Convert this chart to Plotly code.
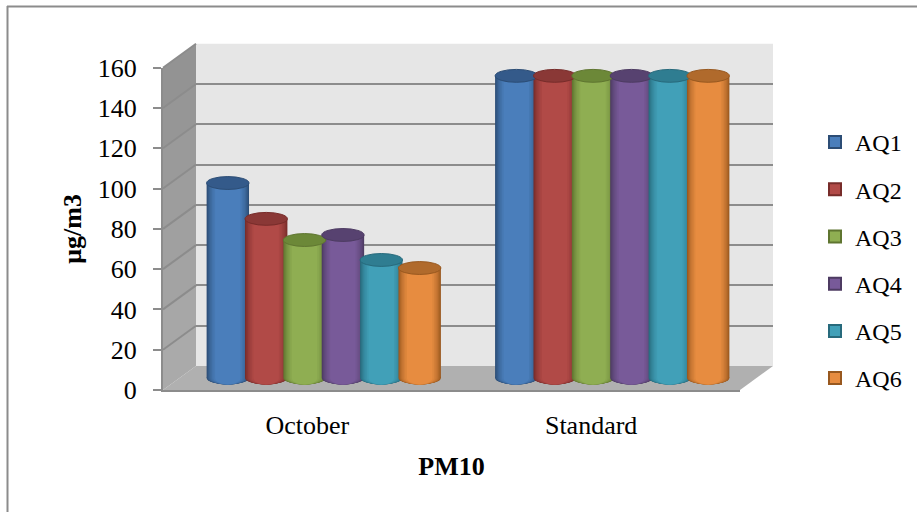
import plotly.graph_objects as go

# PM10 per station, October vs the standard
categories = ["October", "Standard"]
series_names = ["AQ1", "AQ2", "AQ3", "AQ4", "AQ5", "AQ6"]
aq1 = [96.8, 150]
aq2 = [79, 150]
aq3 = [68.5, 150]
aq4 = [71, 150]
aq5 = [58.6, 150]
aq6 = [54.6, 150]
all_values = [aq1, aq2, aq3, aq4, aq5, aq6]
y_ticks = [0, 20, 40, 60, 80, 100, 120, 140, 160]

centre_cols = ["#4a7ebb", "#b14a47", "#8fae52", "#785a99", "#41a0b8", "#e78c40"]
edge_cols = ["#2c4d75", "#772c2a", "#5f7530", "#4d3b62", "#276a7c", "#98581f"]
cap_cols = ["#345a8a", "#8a3836", "#6c8838", "#574270", "#2f7d91", "#b06a2c"]

W, H = 917, 512
FONT = "Liberation Serif"
LINE = "#8c8c8c"

# depth of the fake 3d box, in pixels
DX, DY = 33, 24
LEFT, RIGHT, TOP, BOTTOM = 163, 740, 67.7, 390
PX_PER_UNIT = (BOTTOM - TOP) / 160
BAR_W = 0.147
BAR_STEP = 0.133
CAP_RY = 3.2
LAYERS = [1.0, 0.97, 0.94, 0.9, 0.86, 0.81, 0.75, 0.68, 0.6]


def fx(px):
    return px / W


def fy(py):
    return 1 - py / H


def mix(a, b, t):
    ca = [int(a[i:i + 2], 16) for i in (1, 3, 5)]
    cb = [int(b[i:i + 2], 16) for i in (1, 3, 5)]
    return "#%02x%02x%02x" % tuple(round(p + (q - p) * t) for p, q in zip(ca, cb))


def poly(points, fill):
    path = "M" + " L".join(f"{fx(x):.5f},{fy(y):.5f}" for x, y in points) + " Z"
    return dict(type="path", xref="paper", yref="paper", path=path, fillcolor=fill,
                line=dict(width=0), layer="below")


def seg(x0, y0, x1, y1, width=2):
    return dict(type="line", xref="paper", yref="paper", x0=fx(x0), y0=fy(y0), x1=fx(x1), y1=fy(y1),
                line=dict(color=LINE, width=width), layer="below")


shapes = []
# back wall and floor
shapes.append(poly([(LEFT + DX, TOP - DY), (RIGHT + DX, TOP - DY), (RIGHT + DX, BOTTOM - DY), (LEFT + DX, BOTTOM - DY)], "#e6e6e6"))
shapes.append(poly([(LEFT, BOTTOM), (LEFT + DX, BOTTOM - DY), (RIGHT + DX, BOTTOM - DY), (RIGHT, BOTTOM)], "#b0b0b0"))
# side wall, a little lighter going down
for i in range(len(y_ticks) - 1):
    y_a = BOTTOM - y_ticks[i + 1] * PX_PER_UNIT
    y_b = BOTTOM - y_ticks[i] * PX_PER_UNIT
    shapes.append(poly([(LEFT, y_a), (LEFT + DX, y_a - DY), (LEFT + DX, y_b - DY), (LEFT, y_b)],
                       mix("#aaaaaa", "#939393", i / 7)))
for t in y_ticks[1:]:
    y = BOTTOM - t * PX_PER_UNIT
    shapes.append(seg(LEFT, y, LEFT + DX, y - DY))
# page frame
shapes.append(seg(7, 6.5, W, 6.5))
shapes.append(seg(7.5, 6, 7.5, H))

fig = go.Figure()
# empty traces keep the wall and front axes alive
fig.add_trace(go.Scatter(x=[None], y=[None], xaxis="x", yaxis="y", showlegend=False))
fig.add_trace(go.Scatter(x=[None], y=[None], xaxis="x2", yaxis="y2", showlegend=False))

for i, name in enumerate(series_names):
    xs = [g + 0.5 + (i - 2.5) * BAR_STEP for g in range(len(categories))]
    vals = all_values[i]
    # legend swatch only, the cylinders below have no outline
    fig.add_trace(go.Bar(x=[None], y=[None], name=name, xaxis="x3", yaxis="y3", legendgroup=name,
                         marker=dict(color=centre_cols[i], line=dict(color=edge_cols[i], width=2))))
    for k, frac in enumerate(LAYERS):
        col = mix(edge_cols[i], centre_cols[i], k / (len(LAYERS) - 1))
        fig.add_trace(go.Bar(
            x=xs, y=vals, width=BAR_W * frac, name=name, xaxis="x3", yaxis="y3",
            marker=dict(color=col, line=dict(width=0)), legendgroup=name, showlegend=False,
        ))
        for x in xs:
            # rounded foot of the cylinder
            shapes.append(dict(type="circle", xref="x3", yref="y3", layer="below",
                               x0=x - BAR_W * frac / 2, x1=x + BAR_W * frac / 2, y0=-CAP_RY, y1=CAP_RY,
                               fillcolor=col, line=dict(width=0)))
    for x, v in zip(xs, vals):
        shapes.append(dict(type="circle", xref="x3", yref="y3", layer="above",
                           x0=x - BAR_W / 2, x1=x + BAR_W / 2, y0=v - CAP_RY, y1=v + CAP_RY,
                           fillcolor=cap_cols[i], line=dict(color=edge_cols[i], width=1)))

hidden = dict(showticklabels=False, showgrid=False, zeroline=False, showline=False, ticks="", automargin=False)
bar_left, bar_bottom = LEFT + DX / 2, BOTTOM - DY / 2

fig.update_layout(
    width=W, height=H, margin=dict(l=0, r=0, t=0, b=0),
    paper_bgcolor="white", plot_bgcolor="rgba(0,0,0,0)",
    barmode="overlay", shapes=shapes,
    font=dict(family=FONT, size=26, color="black"),
    # back wall gridlines
    xaxis=dict(domain=[fx(LEFT + DX), fx(RIGHT + DX)], range=[0, 2], anchor="y", **hidden),
    yaxis=dict(domain=[fy(BOTTOM - DY), fy(TOP - DY)], range=[0, 160], anchor="x", automargin=False,
               showticklabels=False, zeroline=False, showline=False, ticks="",
               tickvals=y_ticks[1:], showgrid=True, gridcolor=LINE, gridwidth=2),
    # front edge, carries ticks and labels
    xaxis2=dict(domain=[fx(LEFT), fx(RIGHT)], range=[0, 2], anchor="y2", automargin=False,
                tickvals=[0.5, 1.484], ticktext=categories, showgrid=False, zeroline=False,
                showline=True, linecolor=LINE, linewidth=2, ticks="", ticklabelstandoff=11,
                title=dict(text="<b>PM10</b>", standoff=18, font=dict(size=26))),
    yaxis2=dict(domain=[fy(BOTTOM), fy(TOP)], range=[0, 160], anchor="x2", automargin=False,
                tickvals=y_ticks, showgrid=False, zeroline=False, ticklabelstandoff=11,
                showline=True, linecolor=LINE, linewidth=2, ticks="outside", ticklen=8, tickwidth=2, tickcolor=LINE,
                title=dict(text="<b>μg/m3</b>", standoff=9, font=dict(size=26))),
    # plane the cylinders stand on
    xaxis3=dict(domain=[fx(bar_left), fx(bar_left + RIGHT - LEFT)], range=[0, 2], anchor="y3", **hidden),
    yaxis3=dict(domain=[fy(bar_bottom + 20 * PX_PER_UNIT), fy(bar_bottom - 170 * PX_PER_UNIT)],
                range=[-20, 170], anchor="x3", **hidden),
    legend=dict(x=fx(815), xanchor="left", y=fy(120), yanchor="top", tracegroupgap=13,
                font=dict(family=FONT, size=24), bgcolor="rgba(0,0,0,0)"),
)

fig.write_html("out.html", config=dict(displayModeBar=False),
               post_script="document.body.style.margin='0';document.body.style.overflow='hidden';")
